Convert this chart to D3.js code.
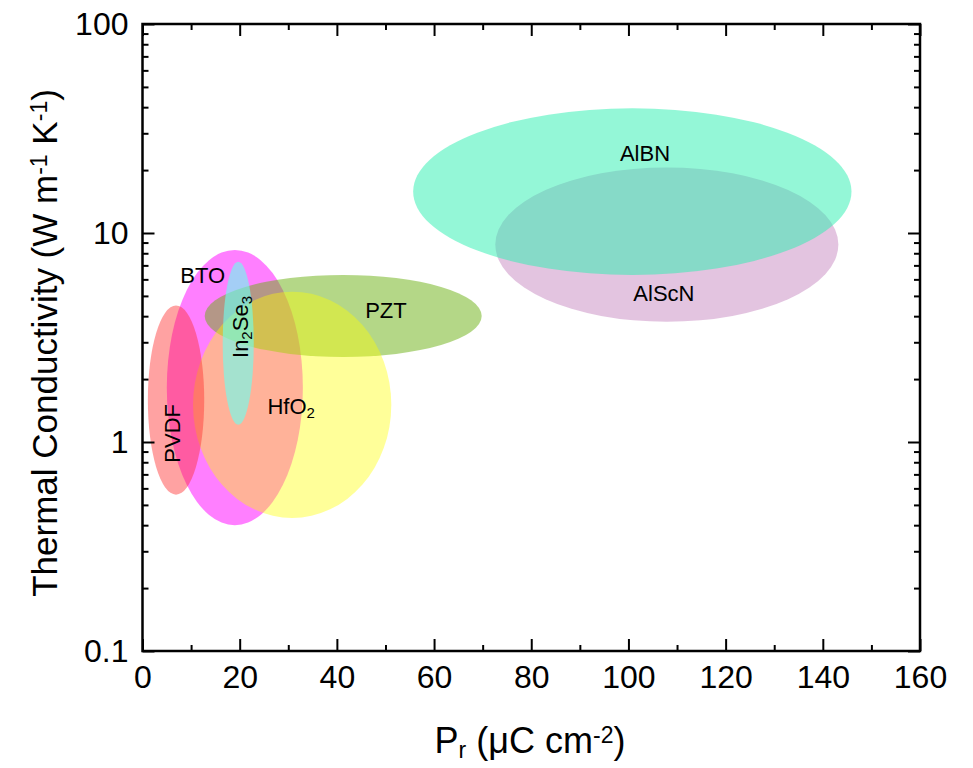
<!DOCTYPE html>
<html>
<head>
<meta charset="utf-8">
<script src="https://cdn.jsdelivr.net/npm/d3@7"></script>
<style>
  html, body { margin: 0; padding: 0; background: #fff; }
  svg { display: block; font-family: "Liberation Sans", Arial, sans-serif; }
</style>
</head>
<body>
<svg id="chart" width="973" height="768"></svg>
<script>
// ---- data ----
const materials   = ["AlScN", "AlBN", "BTO", "PZT", "HfO2", "PVDF", "In2Se3"];
const prCenter    = [107.9, 100.8, 19.0, 41.3, 30.8, 6.9, 19.7];    // µC cm^-2
const prHalfWidth = [35.3, 45.1, 14.0, 28.5, 20.4, 5.8, 3.2];
const kLow        = [3.76, 6.3, 0.40, 2.55, 0.433, 0.56, 1.21];     // W m^-1 K^-1
const kHigh       = [20.6, 39.5, 8.3, 6.3, 5.24, 4.5, 7.29];
const fillColors  = ["#c789c1", "#2af0b0", "#ff00ff", "#69af0f", "#ffff00", "#ff3030", "#6cfff0"];
const fillOpacity = [0.5, 0.5, 0.5, 0.5, 0.4, 0.45, 0.62];
// label anchors (data units)
const labelPr     = [107.3, 103.4, 12.4, 50.1, 30.6, 6.1, 20.1];
const labelK      = [5.16, 24.1, 6.3, 4.28, 1.49, 1.10, 3.55];
const labelVertical = [false, false, false, false, false, true, true];

const xMajor = [0, 20, 40, 60, 80, 100, 120, 140, 160];
const xMinor = [10, 30, 50, 70, 90, 110, 130, 150];
const yMajor = [0.1, 1, 10, 100];
const yMinor = [];
[0.1, 1, 10].forEach(d => { for (let i = 2; i <= 9; i++) yMinor.push(+(d * i).toPrecision(2)); });

// ---- layout ----
const svg = d3.select("#chart");
const L = 142.5, R = 920, T = 24, B = 651;
const x = d3.scaleLinear().domain([0, 160]).range([L, R]);
const y = d3.scaleLog().domain([0.1, 100]).range([B, T]);

// ---- ellipses ----
const g = svg.append("g");
materials.forEach((m, i) => {
  const cx = x(prCenter[i]);
  const rx = x(prCenter[i] + prHalfWidth[i]) - cx;
  const yTop = y(kHigh[i]), yBot = y(kLow[i]);
  g.append("ellipse")
    .attr("cx", cx).attr("cy", (yTop + yBot) / 2)
    .attr("rx", rx).attr("ry", (yBot - yTop) / 2)
    .attr("fill", fillColors[i]).attr("fill-opacity", fillOpacity[i]);
});

// ---- labels ----
function labelParts(name) {
  const parts = [];
  const re = /(\d+)/g;
  let last = 0, mm;
  while ((mm = re.exec(name)) !== null) {
    if (mm.index > last) parts.push({t: name.slice(last, mm.index), sub: false});
    parts.push({t: mm[1], sub: true});
    last = mm.index + mm[1].length;
  }
  if (last < name.length) parts.push({t: name.slice(last), sub: false});
  return parts;
}
materials.forEach((m, i) => {
  const px = x(labelPr[i]), py = y(labelK[i]);
  const t = svg.append("text")
    .attr("transform", `translate(${px},${py})` + (labelVertical[i] ? " rotate(-90)" : ""))
    .attr("text-anchor", "middle")
    .attr("dy", "0.36em")
    .attr("font-size", 22)
    .attr("fill", "#000");
  labelParts(m).forEach(p => {
    const s = t.append("tspan").text(p.t);
    if (p.sub) s.attr("font-size", 15).attr("baseline-shift", "-25%");
  });
});

// ---- axes ----
const tickFont = 32;
function styleAxis(sel) {
  sel.select(".domain").remove();
  sel.selectAll("line").attr("stroke", "#000").attr("stroke-width", 2);
  sel.selectAll("text").attr("font-size", tickFont).attr("fill", "#000")
     .attr("font-family", "'Liberation Sans', Arial, sans-serif");
}
// bottom
svg.append("g").attr("transform", `translate(0,${B})`)
  .call(d3.axisBottom(x).tickValues(xMajor).tickSizeInner(-12).tickSizeOuter(0).tickPadding(14).tickFormat(d3.format("d")))
  .call(styleAxis);
svg.append("g").attr("transform", `translate(0,${B})`)
  .call(d3.axisBottom(x).tickValues(xMinor).tickSizeInner(-6).tickSizeOuter(0).tickFormat(""))
  .call(styleAxis);
// top
svg.append("g").attr("transform", `translate(0,${T})`)
  .call(d3.axisTop(x).tickValues(xMajor).tickSizeInner(-12).tickSizeOuter(0).tickFormat(""))
  .call(styleAxis);
svg.append("g").attr("transform", `translate(0,${T})`)
  .call(d3.axisTop(x).tickValues(xMinor).tickSizeInner(-6).tickSizeOuter(0).tickFormat(""))
  .call(styleAxis);
// left
svg.append("g").attr("transform", `translate(${L},0)`)
  .call(d3.axisLeft(y).tickValues(yMajor).tickSizeInner(-12).tickSizeOuter(0).tickPadding(14).tickFormat(d => d3.format("")(d)))
  .call(styleAxis);
svg.append("g").attr("transform", `translate(${L},0)`)
  .call(d3.axisLeft(y).tickValues(yMinor).tickSizeInner(-6).tickSizeOuter(0).tickFormat(""))
  .call(styleAxis);
// right
svg.append("g").attr("transform", `translate(${R},0)`)
  .call(d3.axisRight(y).tickValues(yMajor).tickSizeInner(-12).tickSizeOuter(0).tickFormat(""))
  .call(styleAxis);
svg.append("g").attr("transform", `translate(${R},0)`)
  .call(d3.axisRight(y).tickValues(yMinor).tickSizeInner(-6).tickSizeOuter(0).tickFormat(""))
  .call(styleAxis);

// frame
svg.append("rect").attr("x", L).attr("y", T).attr("width", R - L).attr("height", B - T)
  .attr("fill", "none").attr("stroke", "#000").attr("stroke-width", 2.5);

// ---- axis titles ----
const xt = svg.append("text").attr("x", 530).attr("y", 753)
  .attr("text-anchor", "middle").attr("font-size", 36).attr("fill", "#000");
xt.append("tspan").text("P");
xt.append("tspan").text("r").attr("font-size", 23).attr("baseline-shift", "-22%");
xt.append("tspan").text(" (\u03BCC cm");
xt.append("tspan").text("-2").attr("font-size", 23).attr("baseline-shift", "45%");
xt.append("tspan").text(")");

const yt = svg.append("text").attr("transform", "translate(57,343) rotate(-90)")
  .attr("text-anchor", "middle").attr("font-size", 35).attr("fill", "#000");
yt.append("tspan").text("Thermal Conductivity (W m");
yt.append("tspan").text("-1").attr("font-size", 23).attr("baseline-shift", "45%");
yt.append("tspan").text(" K");
yt.append("tspan").text("-1").attr("font-size", 23).attr("baseline-shift", "45%");
yt.append("tspan").text(")");
</script>
</body>
</html>
